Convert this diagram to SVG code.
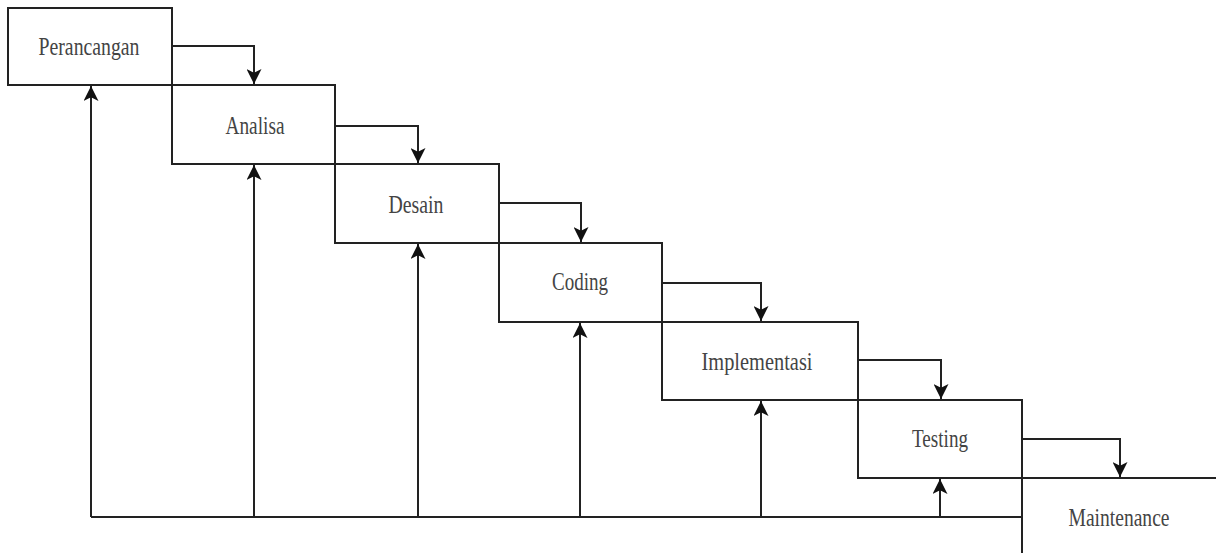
<svg xmlns="http://www.w3.org/2000/svg" width="1216" height="553" viewBox="0 0 1216 553">
<style>
.box{fill:none;stroke:#222;stroke-width:2}
.lbl{font-family:"Liberation Serif","Times New Roman",serif;font-size:25px;fill:#444;text-anchor:middle}
.con{fill:none;stroke:#222;stroke-width:2}
</style>
<defs>
<marker id="ah" markerUnits="userSpaceOnUse" markerWidth="15" markerHeight="15" refX="12" refY="6" orient="auto" viewBox="0 0 12 12">
<path d="M0,0 L12,6 L0,12 L3,6 Z" fill="#111"/>
</marker>
</defs>
<rect width="1216" height="553" fill="#fff"/>
<g id="perancangan"><rect class="box" x="8" y="8" width="164" height="77"/><text class="lbl" x="89" y="55" textLength="101" lengthAdjust="spacingAndGlyphs">Perancangan</text></g>
<g id="analisa"><rect class="box" x="172" y="85" width="163" height="79"/><text class="lbl" x="255" y="134" textLength="59" lengthAdjust="spacingAndGlyphs">Analisa</text></g>
<g id="desain"><rect class="box" x="335" y="164" width="164" height="79"/><text class="lbl" x="416" y="213" textLength="55" lengthAdjust="spacingAndGlyphs">Desain</text></g>
<g id="coding"><rect class="box" x="499" y="243" width="163" height="79"/><text class="lbl" x="580" y="290" textLength="56" lengthAdjust="spacingAndGlyphs">Coding</text></g>
<g id="implementasi"><rect class="box" x="662" y="322" width="196" height="78"/><text class="lbl" x="757" y="370" textLength="111" lengthAdjust="spacingAndGlyphs">Implementasi</text></g>
<g id="testing"><rect class="box" x="858" y="400" width="164" height="78"/><text class="lbl" x="940" y="447" textLength="56" lengthAdjust="spacingAndGlyphs">Testing</text></g>
<g id="maintenance"><path class="box" d="M1022,560 V478 H1222"/><text class="lbl" x="1119" y="526" textLength="101" lengthAdjust="spacingAndGlyphs">Maintenance</text></g>
<g id="connectors">
<path class="con" d="M172,46 H254 V84" marker-end="url(#ah)"/>
<path class="con" d="M335,126 H418 V163" marker-end="url(#ah)"/>
<path class="con" d="M499,203 H581 V242" marker-end="url(#ah)"/>
<path class="con" d="M662,283 H761 V321" marker-end="url(#ah)"/>
<path class="con" d="M858,360 H941 V399" marker-end="url(#ah)"/>
<path class="con" d="M1022,439 H1120 V477" marker-end="url(#ah)"/>
<path class="con" d="M1022,517 H91"/>
<path class="con" d="M91,517 V86" marker-end="url(#ah)"/>
<path class="con" d="M254,517 V165" marker-end="url(#ah)"/>
<path class="con" d="M418,517 V244" marker-end="url(#ah)"/>
<path class="con" d="M580,517 V323" marker-end="url(#ah)"/>
<path class="con" d="M761,517 V401" marker-end="url(#ah)"/>
<path class="con" d="M940,517 V479" marker-end="url(#ah)"/>
</g>
</svg>
